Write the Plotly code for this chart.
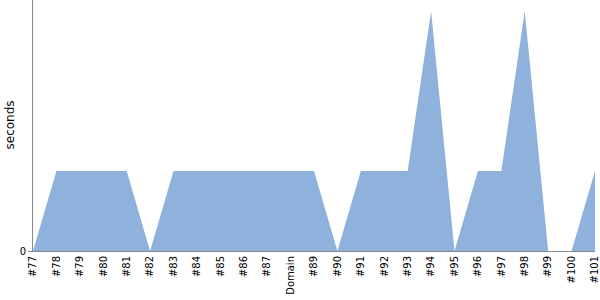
import plotly.graph_objects as go

categories = ["#77", "#78", "#79", "#80", "#81", "#82", "#83", "#84", "#85", "#86", "#87",
              "Domain", "#89", "#90", "#91", "#92", "#93", "#94", "#95", "#96", "#97", "#98",
              "#99", "#100", "#101"]
seconds = [0, 1, 1, 1, 1, 0, 1, 1, 1, 1, 1, 1, 1, 0, 1, 1, 1, 3, 0, 1, 1, 3, 0, 0, 1]
y_title = "seconds"

fig = go.Figure()
fig.add_trace(go.Scatter(
    x=categories, y=seconds, mode="lines", fill="tozeroy",
    fillcolor="rgba(143,178,220,1)", line=dict(width=0, color="rgba(143,178,220,1)"),
    hoverinfo="skip", showlegend=False,
))
fig.update_layout(
    width=600, height=300,
    margin=dict(l=33, r=5, t=0, b=49),
    paper_bgcolor="white", plot_bgcolor="white",
    font=dict(family="DejaVu Sans", size=10, color="black"),
    showlegend=False,
)
fig.update_xaxes(
    type="category", categoryorder="array", categoryarray=categories,
    range=[0, len(categories) - 1], tickangle=-90, showgrid=False,
    showline=True, linecolor="#888888", linewidth=1, ticks="", zeroline=False,
    tickfont=dict(size=10),
)
fig.update_yaxes(
    range=[0, 3.1375], tickvals=[0], ticktext=["0"], showgrid=False,
    showline=True, linecolor="#888888", linewidth=1, ticks="outside", ticklen=4,
    tickcolor="#888888", zeroline=False,
    tickfont=dict(size=10),
)
fig.add_annotation(
    text=y_title, xref="paper", yref="paper", x=-24 / 562, y=0.5,
    textangle=-90, showarrow=False, font=dict(size=12),
    xanchor="center", yanchor="middle",
)
fig.write_html("out.html")
